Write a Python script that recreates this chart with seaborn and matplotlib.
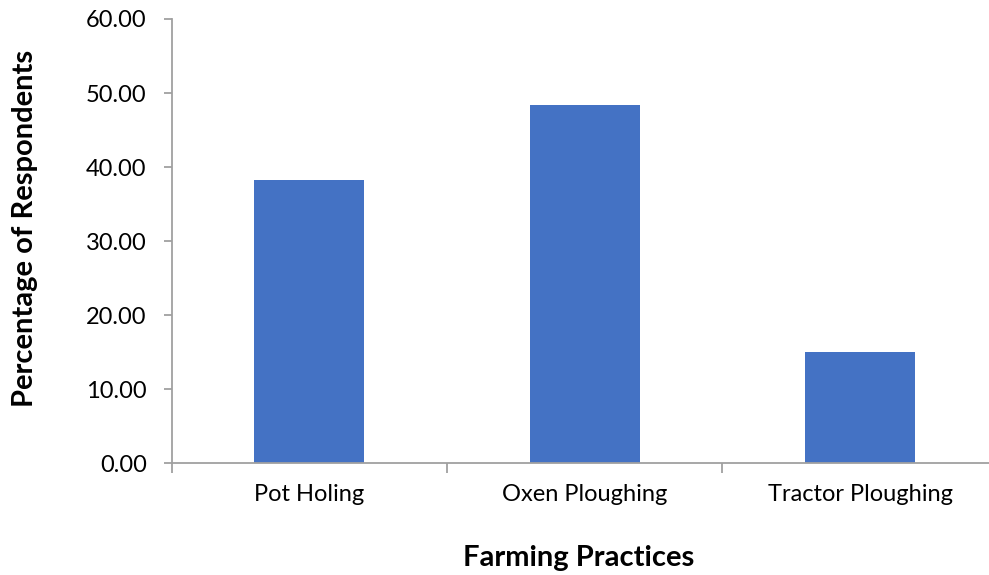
import matplotlib
matplotlib.use("Agg")
import matplotlib.pyplot as plt
import seaborn as sns
import pandas as pd
from matplotlib.ticker import FixedLocator, FormatStrFormatter

categories = ["Pot Holing", "Oxen Ploughing", "Tractor Ploughing"]
percentages = [38.33, 48.33, 15.0]
y_ticks = [0, 10, 20, 30, 40, 50, 60]

sns.set_theme(style="white")
plt.rcParams["font.family"] = ["Lato", "DejaVu Sans"]

df = pd.DataFrame({"Farming Practices": categories, "Percentage": percentages})

fig = plt.figure(figsize=(9.89, 5.75), dpi=100)
ax = fig.add_axes([0.1736, 0.194, 1.009 - 0.1736, 0.967 - 0.194])

sns.barplot(data=df, x="Farming Practices", y="Percentage", color="#4472C4",
            width=0.4, saturation=1, ax=ax, edgecolor="#4472C4", linewidth=0)

ax.set_xlim(-0.5, 2.5)
ax.set_ylim(0, 60)
ax.set_yticks(y_ticks)
ax.yaxis.set_major_formatter(FormatStrFormatter("%.2f"))

spine_color = "#A0A0A0"
for s in ["top", "right"]:
    ax.spines[s].set_visible(False)
for s in ["left", "bottom"]:
    ax.spines[s].set_color(spine_color)
    ax.spines[s].set_linewidth(1.3)

ax.tick_params(axis="y", which="major", direction="out", length=6, width=1.3,
               color=spine_color, pad=12, labelsize=17, labelcolor="black", left=True)
ax.tick_params(axis="x", which="major", length=0, pad=14.5, labelsize=17, labelcolor="black")
ax.xaxis.set_minor_locator(FixedLocator([-0.5, 0.5, 1.5, 2.5]))
ax.tick_params(axis="x", which="minor", direction="out", length=7, width=1.3,
               color=spine_color, bottom=True)

ax.set_xlabel("Farming Practices", fontsize=21, fontweight="bold", color="black")
ax.set_ylabel("Percentage of Respondents", fontsize=21, fontweight="bold", color="black")
ax.xaxis.label.set_va("center")
ax.xaxis.set_label_coords(0.493, -0.212)
ax.yaxis.label.set_va("center")
ax.yaxis.set_label_coords(-0.1775, 0.529)

fig.savefig("out.png", dpi=100)
